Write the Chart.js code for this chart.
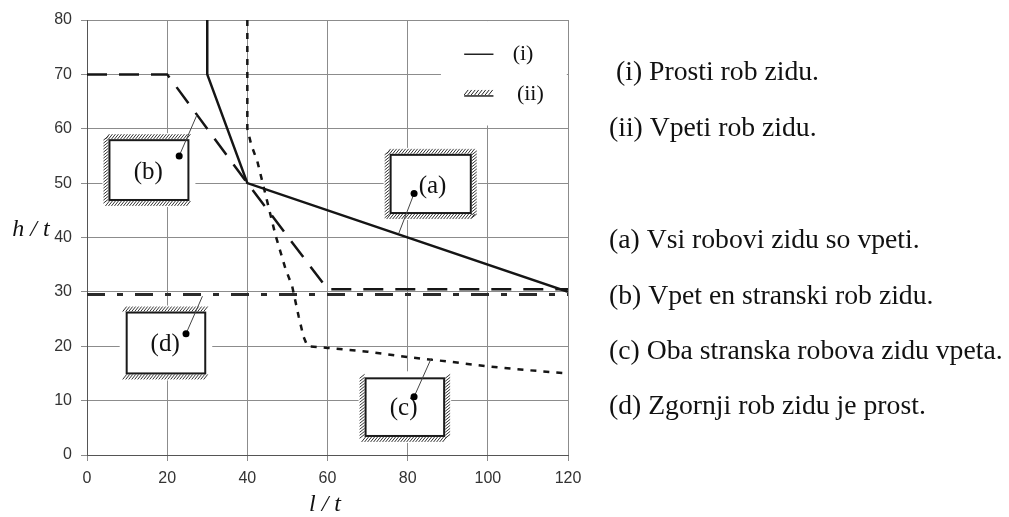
<!DOCTYPE html>
<html>
<head>
<meta charset="utf-8">
<script src="https://cdn.jsdelivr.net/npm/chart.js@4.4.1/dist/chart.umd.min.js"></script>
<style>
  html, body { margin: 0; padding: 0; background: #fff; }
  #wrap { width: 1009px; height: 517px; }
</style>
</head>
<body>
<div id="wrap"><canvas id="chart" width="1009" height="517"></canvas></div>
<script>
// axis ticks
const xTicks = [0, 20, 40, 60, 80, 100, 120];
const yTicks = [0, 10, 20, 30, 40, 50, 60, 70, 80];

// (a) vsi robovi vpeti  - solid
const curveA_x = [30, 30, 40, 120];
const curveA_y = [80, 70, 50, 30];
// (b) vpet en stranski rob - long dash
const curveB_x = [0, 20, 40, 60, 120];
const curveB_y = [70, 70, 50, 30.5, 30.5];
// (c) oba stranska robova vpeta - dotted
const curveC_x = [40, 40, 41, 42.5, 44.5, 47, 49.5, 51.2, 52.8, 54, 55, 60, 70, 80, 90, 100, 110, 120];
const curveC_y = [80, 60, 57, 54, 48, 40.5, 34.3, 31, 25.5, 21.8, 20, 19.7, 19, 18, 17.2, 16.3, 15.6, 15];
// (d) zgornji rob prost - dash dot
const curveD_x = [0, 120];
const curveD_y = [29.5, 29.5];

const legendLabels = ['(i)', '(ii)'];
const notes = [
  '(i) Prosti rob zidu.',
  '(ii) Vpeti rob zidu.',
  '(a) Vsi robovi zidu so vpeti.',
  '(b) Vpet en stranski rob zidu.',
  '(c) Oba stranska robova zidu vpeta.',
  '(d) Zgornji rob zidu je prost.'
];

const pts = (xs, ys) => xs.map((x, i) => ({ x: x, y: ys[i] }));

// little wall sketches, in data units
const boxes = [
  { label: '(a)', x1: 75.75, x2: 95.75, y1: 55.2, y2: 44.5, hatch: 'tblr', dot: [81.6, 48.1], lead: [77.8, 40.8], text: [86.2, 49.4] },
  { label: '(b)', x1: 5.6, x2: 25.3, y1: 57.9, y2: 46.9, hatch: 'tbl', dot: [23, 55], lead: [27.4, 62.5], text: [15.3, 52] },
  { label: '(c)', x1: 69.5, x2: 89.1, y1: 14.1, y2: 3.5, hatch: 'blr', dot: [81.6, 10.7], lead: [85.9, 17.8], text: [79, 8.5] },
  { label: '(d)', x1: 9.9, x2: 29.5, y1: 26.2, y2: 15.0, hatch: 'tb', dot: [24.7, 22.3], lead: [28.8, 29.2], text: [19.5, 20.3] }
];

function hatch(ctx, side, a, b, c) {
  // a..b along edge, c = edge position
  ctx.beginPath();
  if (side === 't' || side === 'b') {
    for (let x = a; x <= b - 3; x += 3) {
      if (side === 't') { ctx.moveTo(x, c - 1); ctx.lineTo(x + 4, c - 6); }
      else { ctx.moveTo(x, c + 6); ctx.lineTo(x + 4, c + 1); }
    }
  } else {
    for (let y = a; y <= b - 3; y += 3) {
      if (side === 'l') { ctx.moveTo(c - 6, y + 4); ctx.lineTo(c - 1, y); }
      else { ctx.moveTo(c + 1, y + 4); ctx.lineTo(c + 6, y); }
    }
  }
  ctx.stroke();
}

const sketchPlugin = {
  id: 'sketches',
  beforeDatasetsDraw(chart) {
    const ctx = chart.ctx, xs = chart.scales.x, ys = chart.scales.y;
    ctx.save();
    // legend background
    ctx.fillStyle = '#fff';
    const lx1 = xs.getPixelForValue(88.3), lx2 = xs.getPixelForValue(119.7);
    const ly1 = ys.getPixelForValue(79.8), ly2 = ys.getPixelForValue(60.6);
    ctx.fillRect(lx1, ly1, lx2 - lx1, ly2 - ly1);

    boxes.forEach(bx => {
      const L = xs.getPixelForValue(bx.x1), R = xs.getPixelForValue(bx.x2);
      const T = ys.getPixelForValue(bx.y1), B = ys.getPixelForValue(bx.y2);
      ctx.fillStyle = '#fff';
      ctx.fillRect(L - 7, T - 7, R - L + 14, B - T + 14);
      ctx.strokeStyle = '#1a1a1a';
      ctx.lineWidth = 2;
      ctx.strokeRect(L, T, R - L, B - T);
      ctx.lineWidth = 1;
      ctx.strokeStyle = '#333';
      if (bx.hatch.includes('t')) hatch(ctx, 't', L - 4, R + 4, T);
      if (bx.hatch.includes('b')) hatch(ctx, 'b', L - 4, R + 4, B);
      if (bx.hatch.includes('l')) hatch(ctx, 'l', T - 4, B + 4, L);
      if (bx.hatch.includes('r')) hatch(ctx, 'r', T - 4, B + 4, R);
      ctx.fillStyle = '#111';
      ctx.font = '25px "Liberation Serif", serif';
      ctx.textAlign = 'center';
      ctx.textBaseline = 'middle';
      ctx.fillText(bx.label, xs.getPixelForValue(bx.text[0]), ys.getPixelForValue(bx.text[1]));
    });
    ctx.restore();
  },
  afterDatasetsDraw(chart) {
    const ctx = chart.ctx, xs = chart.scales.x, ys = chart.scales.y;
    ctx.save();
    boxes.forEach(bx => {
      const dx = xs.getPixelForValue(bx.dot[0]), dy = ys.getPixelForValue(bx.dot[1]);
      ctx.strokeStyle = '#444';
      ctx.lineWidth = 1;
      ctx.beginPath();
      ctx.moveTo(dx, dy);
      ctx.lineTo(xs.getPixelForValue(bx.lead[0]), ys.getPixelForValue(bx.lead[1]));
      ctx.stroke();
      ctx.fillStyle = '#000';
      ctx.beginPath();
      ctx.arc(dx, dy, 3.5, 0, Math.PI * 2);
      ctx.fill();
    });

    // inner legend
    const sx1 = xs.getPixelForValue(94.1), sx2 = xs.getPixelForValue(101.4);
    const y1 = ys.getPixelForValue(73.7), y2 = ys.getPixelForValue(66.4);
    ctx.strokeStyle = '#222';
    ctx.lineWidth = 1.5;
    ctx.beginPath(); ctx.moveTo(sx1, y1); ctx.lineTo(sx2, y1); ctx.stroke();
    ctx.beginPath(); ctx.moveTo(sx1, y2 + 2); ctx.lineTo(sx2, y2 + 2); ctx.stroke();
    ctx.lineWidth = 1;
    ctx.beginPath();
    for (let x = sx1; x <= sx2 - 3; x += 3.5) { ctx.moveTo(x, y2 + 1); ctx.lineTo(x + 4, y2 - 4); }
    ctx.stroke();
    ctx.fillStyle = '#111';
    ctx.font = '22px "Liberation Serif", serif';
    ctx.textAlign = 'left';
    ctx.textBaseline = 'middle';
    ctx.fillText(legendLabels[0], xs.getPixelForValue(106.2), y1);
    ctx.fillText(legendLabels[1], xs.getPixelForValue(107.25), y2);
    ctx.restore();
  },
  afterDraw(chart) {
    const ctx = chart.ctx;
    ctx.save();
    ctx.fillStyle = '#111';
    ctx.font = 'italic 24px "Liberation Serif", serif';
    ctx.textAlign = 'center';
    ctx.textBaseline = 'middle';
    ctx.fillText('h / t', 31, 230);
    ctx.fillText('l / t', 325, 505);

    ctx.font = '27.7px "Liberation Serif", serif';
    ctx.textAlign = 'left';
    const noteY = [73, 129, 241, 297, 352, 407];
    notes.forEach((t, i) => ctx.fillText(t, i === 0 ? 616 : 609, noteY[i]));
    ctx.restore();
  }
};

const lineBase = { showLine: true, pointRadius: 0, tension: 0, fill: false, borderColor: '#151515', borderWidth: 2.5 };

new Chart('chart', {
  type: 'scatter',
  data: {
    datasets: [
      Object.assign({}, lineBase, { label: '(a)', data: pts(curveA_x, curveA_y) }),
      Object.assign({}, lineBase, { label: '(b)', data: pts(curveB_x, curveB_y), borderDash: [20, 12] }),
      Object.assign({}, lineBase, { label: '(c)', data: pts(curveC_x, curveC_y), borderDash: [6, 7] }),
      Object.assign({}, lineBase, { label: '(d)', data: pts(curveD_x, curveD_y), borderDash: [18, 12, 6, 12], borderWidth: 3, borderColor: '#2a2a2a' })
    ]
  },
  options: {
    responsive: false,
    animation: false,
    events: [],
    layout: { padding: { left: 0, top: 20, right: 441, bottom: 0 } },
    plugins: { legend: { display: false }, tooltip: { enabled: false } },
    scales: {
      x: {
        type: 'linear', min: 0, max: 120,
        afterBuildTicks: s => { s.ticks = xTicks.map(v => ({ value: v })); },
        afterFit: s => { s.height = 62; s.paddingLeft = 0; s.paddingRight = 0; },
        grid: { color: '#8c8c8c', lineWidth: 1, tickLength: 6 },
        border: { color: '#555', width: 1 },
        ticks: { padding: 8, color: '#333', font: { family: '"Liberation Sans", Arial, sans-serif', size: 16 } }
      },
      y: {
        type: 'linear', min: 0, max: 80,
        afterBuildTicks: s => { s.ticks = yTicks.map(v => ({ value: v })); },
        afterFit: s => { s.width = 87; s.paddingTop = 0; s.paddingBottom = 0; },
        grid: { color: '#8c8c8c', lineWidth: 1, tickLength: 6 },
        border: { color: '#555', width: 1 },
        ticks: { padding: 9, color: '#333', font: { family: '"Liberation Sans", Arial, sans-serif', size: 16 } }
      }
    }
  },
  plugins: [sketchPlugin]
});
</script>
</body>
</html>
